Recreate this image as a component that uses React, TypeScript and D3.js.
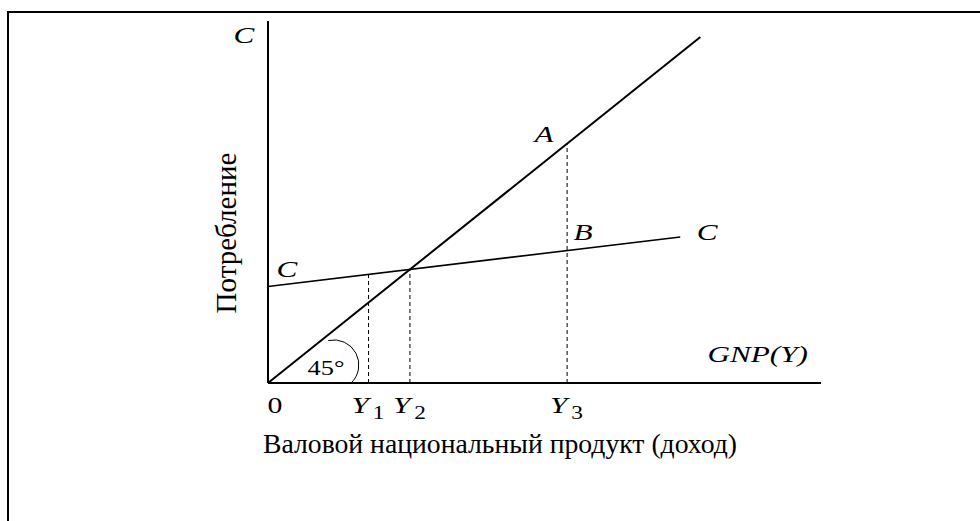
import React from 'react'
import * as d3 from 'd3'

// income (GNP) axis and consumption axis extents
const xDomain = [0, 110]
const yDomain = [0, 90]

// 45-degree line C = Y
const lineEnd = 86
// consumption function C = a + b*Y
const autonomous = 24
const mpc = 0.15
const consEnd = 82

// marked incomes
const Y1 = 20
const Y3 = 59.5
const Y2 = autonomous / (1 - mpc)

const tickLabels = [
  { v: Y1, sub: '1' },
  { v: Y2, sub: '2' },
  { v: Y3, sub: '3' },
]

const W = 980
const H = 521

const tf = { fontFamily: '"Times New Roman"' }
// labels in the source are drawn a bit wide
const SX = 1.3

const App = () => {
  const x = d3.scaleLinear().domain(xDomain).range([268, 821])
  const y = d3.scaleLinear().domain(yDomain).range([383, 21])

  const line = d3.line<[number, number]>().x(d => x(d[0])).y(d => y(d[1]))
  const cons = (v: number) => autonomous + mpc * v

  const diag = line([[0, 0], [lineEnd, lineEnd]])
  const consLine = line([[0, cons(0)], [consEnd, cons(consEnd)]])

  const drops = [
    [Y1, cons(Y1)],
    [Y2, Y2],
    [Y3, Y3],
  ]

  // 45° angle mark
  const arc = d3.path()
  arc.arc(x(13.1), y(4.5), 25, (-103 * Math.PI) / 180, (47 * Math.PI) / 180)

  const label = (t: string, cx: number, by: number, anchor = 'middle', size = 24) => (
    <text style={tf} transform={`translate(${cx},${by}) scale(${SX},1)`} fontSize={size}
      fontStyle="italic" textAnchor={anchor}>{t}</text>
  )

  return (
    <svg width={W} height={H} style={{ position: 'absolute', left: 0, top: 0, background: '#fff' }}>
      <rect x={8} y={12} width={1200} height={800} fill="none" stroke="#000" strokeWidth={2} />

      {/* axes */}
      <line x1={x(0)} x2={x(0)} y1={y(0)} y2={y(yDomain[1])} stroke="#000" strokeWidth={2} />
      <line x1={x(0)} x2={x(xDomain[1])} y1={y(0)} y2={y(0)} stroke="#000" strokeWidth={2} />

      {drops.map((d, i) => (
        <line key={i} x1={x(d[0])} x2={x(d[0])} y1={y(0)} y2={y(d[1])}
          stroke="#000" strokeWidth={1} strokeDasharray="4,3" />
      ))}

      <path d={diag || ''} fill="none" stroke="#000" strokeWidth={2} />
      <path d={consLine || ''} fill="none" stroke="#000" strokeWidth={1.6} />
      <path d={arc.toString()} fill="none" stroke="#000" strokeWidth={1} />

      <g fill="#000">
        {label('C', x(0) - 24, 43)}
        {label('C', 287, 277)}
        {label('A', x(Y3) - 23, y(Y3) - 2)}
        {label('B', x(Y3) + 16, 240)}
        {label('C', x(consEnd) + 27, 240)}
        {label('GNP(Y)', x(xDomain[1]) - 13, 362, 'end')}
        <text style={tf} transform={`translate(326,375) scale(1.2,1)`} fontSize={22} textAnchor="middle">45°</text>
        <text style={tf} transform={`translate(${x(0) + 7},413) scale(${SX},1)`} fontSize={23} textAnchor="middle">0</text>
        {tickLabels.map((t, i) => (
          <text style={tf} key={i} transform={`translate(${x(t.v) - 17},413) scale(${SX},1)`} fontSize={24}>
            <tspan fontStyle="italic">Y</tspan>
            <tspan fontSize={18} dx={3} dy={6}>{t.sub}</tspan>
          </text>
        ))}
        <text style={tf} transform={`translate(236,233) rotate(-90)`} fontSize={29} textAnchor="middle">Потребление</text>
        <text style={tf} x={500} y={453} fontSize={27.7} textAnchor="middle">Валовой национальный продукт (доход)</text>
      </g>
    </svg>
  )
}

export default App
